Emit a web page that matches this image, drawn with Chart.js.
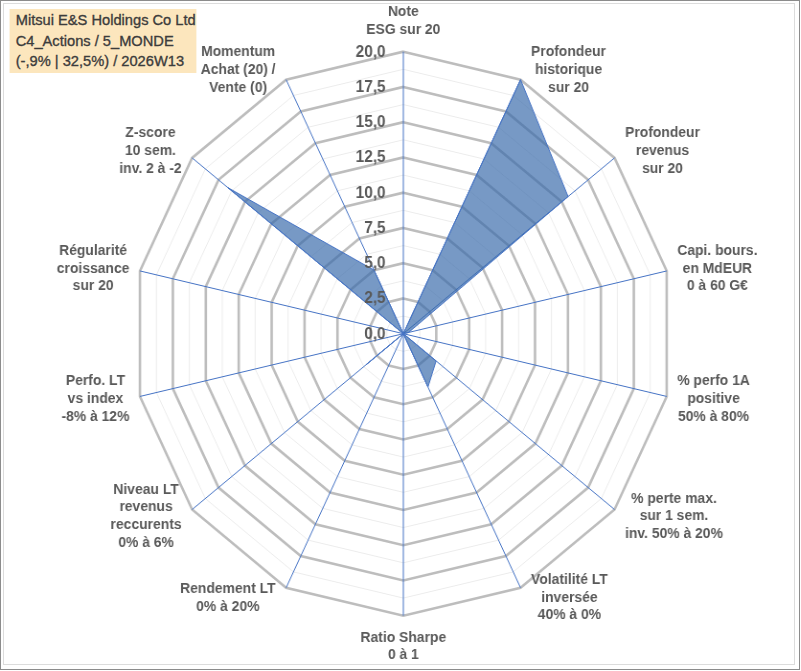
<!DOCTYPE html>
<html>
<head>
<meta charset="utf-8">
<script src="https://cdn.jsdelivr.net/npm/chart.js@4.4.1/dist/chart.umd.min.js"></script>
<style>
  html, body { margin:0; padding:0; background:#fff; width:801px; height:671px; overflow:hidden; }
  #frame { position:absolute; left:0; top:0; width:798px; height:668px; border:1px solid #8c8c8c; }
  #inner { position:absolute; left:3px; top:3px; width:790px; height:660px; border:1px solid #dcdcdc; }
  #wrap { position:absolute; left:0; top:0; width:836px; height:671px; transform:scaleX(0.958); transform-origin:0 0; }
  #title { position:absolute; left:10.4px; top:9px; width:195px; height:64px; background:#fce6bd;
           font-family:"Liberation Sans", Arial, sans-serif; font-size:15.3px; line-height:20.5px; color:#3c3c3c;
           -webkit-text-stroke:0.35px #3c3c3c;
           padding:1px 0 0 6px; box-sizing:border-box; white-space:nowrap; }
</style>
</head>
<body>
<div id="frame"></div>
<div id="inner"></div>
<div id="wrap">
  <canvas id="c"></canvas>
  <div id="title">Mitsui E&amp;S Holdings Co Ltd<br>C4_Actions / 5_MONDE<br>(-,9% | 32,5%) / 2026W13</div>
</div>
<script>
const categories = [
  ["Note", "ESG sur 20"],
  ["Profondeur", "historique", "sur 20"],
  ["Profondeur", "revenus", "sur 20"],
  ["Capi. bours.", "en MdEUR", "0 à 60 G€"],
  ["% perfo 1A", "positive", "50% à 80%"],
  ["% perte max.", "sur 1 sem.", "inv. 50% à 20%"],
  ["Volatilité LT", "inversée", "40% à 0%"],
  ["Ratio Sharpe", "0 à 1"],
  ["Rendement LT", "0% à 20%"],
  ["Niveau LT", "revenus", "reccurents", "0% à 6%"],
  ["Perfo. LT", "vs index", "-8% à 12%"],
  ["Régularité", "croissance", "sur 20"],
  ["Z-score", "10 sem.", "inv. 2 à -2"],
  ["Momentum", "Achat (20) /", "Vente (0)"]
];
const scores = [0, 20, 15.6, 0.4, 0, 3.1, 4.2, 0, 0, 3.5, 0, 0, 16.6, 5];
const tickLabels = [0, 2.5, 5, 7.5, 10, 12.5, 15, 17.5, 20];

const GRAY = '#595959';
const FONT = '"Liberation Sans", Arial, sans-serif';

const labelsPlugin = {
  id: 'customLabels',
  afterDatasetsDraw(chart) {
    const scale = chart.scales.r;
    const ctx = chart.ctx;
    ctx.save();
    ctx.fillStyle = GRAY;
    ctx.font = 'bold 16px ' + FONT;
    ctx.textAlign = 'right';
    ctx.textBaseline = 'middle';
    tickLabels.forEach(v => {
      const d = scale.getDistanceFromCenterForValue(v);
      ctx.fillText(v.toFixed(1).replace('.', ','), scale.xCenter - 18.5, scale.yCenter - d + 0.5);
    });
    ctx.font = 'bold 14.5px ' + FONT;
    ctx.textAlign = 'center';
    const lh = 17.8;
    categories.forEach((lines, i) => {
      const p = scale.getPointPosition(i, scale.drawingArea);
      const a = scale.getIndexAngle(i);
      const s = Math.sin(a), c = Math.cos(a);
      const w = Math.max(...lines.map(l => ctx.measureText(l).width));
      const h = lines.length * lh;
      let cx, cy;
      if (Math.abs(s) < 0.1) {
        cx = p.x;
        cy = p.y - c * (h / 2 + 13);
      } else {
        cx = p.x + Math.sign(s) * (w / 2 + 11);
        cy = p.y - c * 11;
      }
      lines.forEach((l, k) => ctx.fillText(l, cx, cy - h / 2 + lh * (k + 0.5)));
    });
    ctx.restore();
  }
};

new Chart(document.getElementById('c'), {
  type: 'radar',
  data: {
    labels: categories,
    datasets: [{
      data: scores,
      backgroundColor: 'rgba(55,105,170,0.68)',
      borderColor: '#4472c4',
      borderWidth: 1,
      pointRadius: 0,
      pointHoverRadius: 0,
      fill: true,
      tension: 0
    }]
  },
  options: {
    responsive: true,
    maintainAspectRatio: false,
    animation: false,
    events: [],
    layout: { padding: 0 },
    plugins: { legend: { display: false }, tooltip: { enabled: false }, title: { display: false } },
    scales: {
      r: {
        min: 0,
        max: 20,
        afterFit(scale) {
          scale.xCenter = 421;
          scale.yCenter = 333.7;
          scale.drawingArea = 282;
        },
        ticks: { stepSize: 1.25, display: false },
        pointLabels: { display: false },
        grid: {
          color: ctx => (Math.abs(ctx.tick.value / 2.5 - Math.round(ctx.tick.value / 2.5)) < 1e-6) ? '#bdbdbd' : '#ececec',
          lineWidth: ctx => (Math.abs(ctx.tick.value / 2.5 - Math.round(ctx.tick.value / 2.5)) < 1e-6) ? 2.6 : 1
        },
        angleLines: { color: '#4472c4', lineWidth: 1 }
      }
    }
  },
  plugins: [labelsPlugin]
});
</script>
</body>
</html>
